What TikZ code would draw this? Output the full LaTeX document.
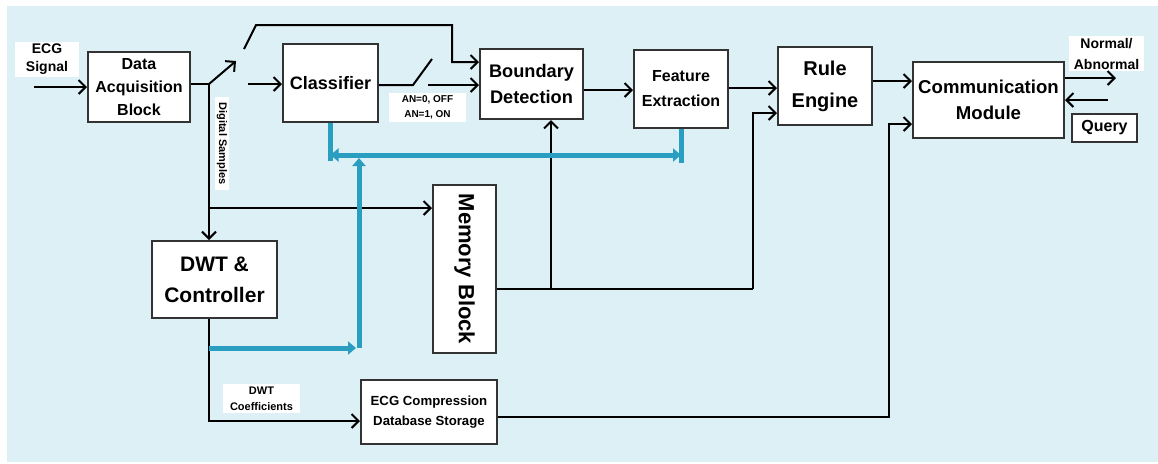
\documentclass[tikz,border=0pt]{standalone}
\usepackage{fontspec}
\setmainfont{Liberation Sans}
\usepackage{tikz}
\usetikzlibrary{arrows, arrows.meta}
\definecolor{bgblue}{RGB}{221,240,245}
\definecolor{buscol}{RGB}{42,158,192}
\tikzstyle{box} = [rectangle, draw=black!80, line width=1pt, fill=white, align=center, inner sep=1pt]
\tikzstyle{lbl} = [rectangle, fill=white, align=center, inner sep=1pt]
\tikzstyle{arrow} = [line width=1pt,->,>={Straight Barb[length=3.5pt,width=7pt]}]
\tikzstyle{wire} = [line width=1pt]
\tikzstyle{busline} = [line width=2.5pt, draw=buscol]
\tikzstyle{bus} = [busline, -{Triangle[length=4pt,width=6.5pt]}]
\tikzstyle{busboth} = [busline, {Triangle[length=4pt,width=6.5pt]}-{Triangle[length=4pt,width=6.5pt]}]

\begin{document}
\begin{tikzpicture}[x=0.5pt, y=-0.5pt]
	\useasboundingbox (0,0) rectangle (1158,463);
	\fill[bgblue] (7,6) rectangle (1158,462);

	% blocks
	\node (dab) [box, minimum width=51pt, minimum height=35pt, font=\bfseries\fontsize{8}{11.5}\selectfont] at (139,87) {Data\\Acquisition\\Block};
	\node (cls) [box, minimum width=47.5pt, minimum height=39pt, font=\bfseries\fontsize{9}{11}\selectfont] at (330.5,83) {Classifier};
	\node (bd) [box, minimum width=51.5pt, minimum height=35pt, font=\bfseries\fontsize{9.1}{13}\selectfont] at (531.5,84) {Boundary\\Detection};
	\node (fe) [box, minimum width=47pt, minimum height=39pt, font=\bfseries\fontsize{8}{12.5}\selectfont] at (681,89) {Feature\\Extraction};
	\node (re) [box, minimum width=47pt, minimum height=39pt, font=\bfseries\fontsize{10}{16}\selectfont] at (825,86) {Rule\\Engine};
	\node (cm) [box, minimum width=75.5pt, minimum height=38pt, font=\bfseries\fontsize{9.3}{13}\selectfont] at (988.5,100) {Communication\\Module};
	\node (qry) [box, minimum width=32.5pt, minimum height=14pt, font=\bfseries\fontsize{8}{10}\selectfont] at (1104.5,128) {Query};
	\node (mem) [box, minimum width=31.5pt, minimum height=84pt, font=\bfseries\fontsize{11}{13}\selectfont] at (464.5,269) {\rotatebox{-90}{Memory Block}};
	\node (dwt) [box, minimum width=62.5pt, minimum height=38.5pt, font=\bfseries\fontsize{10.5}{15.5}\selectfont] at (214.5,279.5) {DWT \&\\Controller};
	\node (ecgc) [box, minimum width=68pt, minimum height=32pt, font=\bfseries\fontsize{6.6}{10}\selectfont] at (429,412) {ECG Compression\\Database Storage};

	% labels
	\node (sig) [lbl, minimum width=32pt, minimum height=17.5pt, font=\bfseries\fontsize{7}{9}\selectfont] at (47,59.5) {ECG\\Signal};
	\node (nrm) [lbl, minimum width=37.5pt, minimum height=16.5pt, font=\bfseries\fontsize{7}{10.5}\selectfont] at (1106.5,53.5) {Normal/\\Abnormal};
	\node (an) [lbl, minimum width=38.5pt, minimum height=14.5pt, font=\bfseries\fontsize{5}{7.5}\selectfont] at (427.5,107.5) {AN=0, OFF\\AN=1, ON};
	\node (coef) [lbl, minimum width=38.5pt, minimum height=14.5pt, font=\bfseries\fontsize{5.5}{8}\selectfont] at (261.5,398.5) {DWT\\Coefficients};
	\node (dsl) [lbl, minimum width=7pt, minimum height=46.5pt, font=\bfseries\fontsize{5.5}{7}\selectfont] at (222,143.5) {\rotatebox{-90}{Digital Samples}};

	% junctions and free ends
	\coordinate (sigin) at (34,87);
	\coordinate (j1) at (209,84);
	\coordinate (sw1a) at (236,61);
	\coordinate (sw1b) at (244,49);
	\coordinate (sw1c) at (256,25);
	\coordinate (j8) at (452,25);
	\coordinate (clsin) at (248,84);
	\coordinate (j2) at (209,208);
	\coordinate (sw2a) at (413,85);
	\coordinate (sw2b) at (432,59);
	\coordinate (sw2c) at (428,85);
	\coordinate (j3) at (551,289);
	\coordinate (j4) at (753,289);
	\coordinate (outN) at (1116,78);
	\coordinate (inQ) at (1108,100);
	\coordinate (j5) at (889,417);
	\coordinate (b1) at (209,348);
	\coordinate (b2) at (356,348);
	\coordinate (b3) at (359,348);
	\coordinate (b4) at (359,158);
	\coordinate (busy) at (0,155);

	% signal path
	\draw [arrow] (sigin) -- (sigin -| dab.west);
	\draw [wire] (j1 -| dab.east) -- (j1);
	\draw [arrow] (j1) -- (sw1a);
	\draw [arrow] (sw1b) -- (sw1c) -- (j8) |- ([yshift=11pt]bd.west);
	\draw [arrow] (clsin) -- (clsin -| cls.west);
	\draw [wire] (sw2a -| cls.east) -- (sw2a) -- (sw2b);
	\draw [arrow] (sw2c) -- (sw2c -| bd.west);
	\draw [arrow] ([yshift=-3pt]bd.east) -- ([yshift=-3pt]bd.east -| fe.west);
	\draw [arrow] ([yshift=0.5pt]fe.east) -- ([yshift=0.5pt]fe.east -| re.west);
	\draw [arrow] ([yshift=2.5pt]re.east) -- ([yshift=2.5pt]re.east -| cm.west);
	\draw [arrow] ([yshift=11pt]cm.east) -- (outN);
	\draw [arrow] (inQ) -- (inQ -| cm.east);

	% samples, memory and dwt
	\draw [wire] (j1) -- (j2);
	\draw [arrow] (j2) -- (j2 |- dwt.north);
	\draw [arrow] (j2) -- (j2 -| mem.west);
	\draw [wire] (j3 -| mem.east) -- (j3) -- (j4);
	\draw [arrow] (j3) -- (j3 |- bd.south);
	\draw [arrow] (j4) |- ([yshift=-13.5pt]re.west);
	\draw [arrow] (j2 |- dwt.south) |- ([yshift=-4.5pt]ecgc.west);
	\draw [arrow] ([yshift=-2.5pt]ecgc.east) -- (j5) |- ([yshift=-12pt]cm.west);

	% bus
	\draw [bus] (b1) -- (b2);
	\draw [bus] (b3) -- (b4);
	\draw [busline] (cls.south) -- ++(0,38);
	\draw [busline] (fe.south) -- ++(0,34);
	\draw [busboth] (cls.south |- busy) -- (fe.south |- busy);
\end{tikzpicture}
\end{document}
